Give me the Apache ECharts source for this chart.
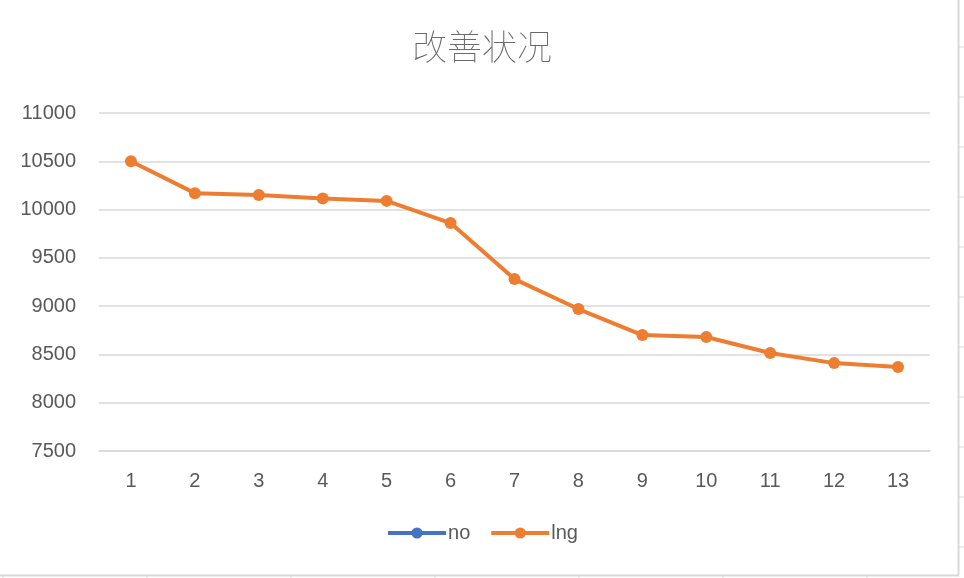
<!DOCTYPE html>
<html>
<head>
<meta charset="utf-8">
<script src="https://cdn.jsdelivr.net/npm/echarts@6/dist/echarts.min.js"></script>
<style>
  html, body { margin: 0; padding: 0; background: #fff; }
  #chart { width: 964px; height: 578px; }
</style>
</head>
<body>
<div id="chart"></div>
<script>
// data
const categories = ['1', '2', '3', '4', '5', '6', '7', '8', '9', '10', '11', '12', '13'];
const noValues = [null, null, null, null, null, null, null, null, null, null, null, null, null];
const lngValues = [10500, 10170, 10150, 10115, 10090, 9860, 9280, 8970, 8700, 8680, 8515, 8410, 8370];

const grey = '#595959';
const font = '"Liberation Sans", "Noto Sans CJK SC", sans-serif';

const chart = echarts.init(document.getElementById('chart'));

// spreadsheet cell edges at right and bottom of the picture
const edges = [
  { type: 'line', shape: { x1: 958.5, y1: 0, x2: 958.5, y2: 575 }, style: { stroke: '#d9d9d9', lineWidth: 2 } },
  { type: 'line', shape: { x1: 0, y1: 575.5, x2: 959, y2: 575.5 }, style: { stroke: '#d9d9d9', lineWidth: 2 } }
];
[47, 97, 147, 197, 247, 297, 347, 397, 447, 497, 547].forEach(function (y) {
  edges.push({ type: 'line', shape: { x1: 959, y1: y, x2: 964, y2: y }, style: { stroke: '#d9d9d9', lineWidth: 1 } });
});
[3, 147, 291, 435, 579, 723, 867].forEach(function (x) {
  edges.push({ type: 'line', shape: { x1: x, y1: 576, x2: x, y2: 578 }, style: { stroke: '#d9d9d9', lineWidth: 1 } });
});

chart.setOption({
  backgroundColor: '#fff',
  animation: false,
  textStyle: { fontFamily: font },
  title: {
    text: '改善状况',
    left: 'center',
    top: 24,
    textStyle: { color: '#6a6a6a', fontSize: 35, fontWeight: 'lighter', fontFamily: '"Noto Sans CJK SC", sans-serif' }
  },
  legend: {
    bottom: 30,
    left: 'center',
    itemWidth: 58,
    itemHeight: 14,
    itemGap: 19,
    lineStyle: { width: 4 },
    textStyle: { color: grey, fontSize: 20, fontFamily: font, padding: [0, 0, 0, -3] },
    data: ['no', 'lng']
  },
  grid: { left: 99, right: 34, top: 113, bottom: 127 },
  xAxis: {
    type: 'category',
    data: categories,
    boundaryGap: true,
    axisLine: { show: true, lineStyle: { color: '#d9d9d9', width: 1.5 } },
    axisTick: { show: false },
    axisLabel: { color: grey, fontSize: 20, margin: 20, fontFamily: font }
  },
  yAxis: {
    type: 'value',
    min: 7500,
    max: 11000,
    interval: 500,
    axisLine: { show: false },
    axisTick: { show: false },
    axisLabel: { color: grey, fontSize: 20, margin: 23, fontFamily: font, formatter: function (v) { return String(v); } },
    splitLine: { lineStyle: { color: '#d9d9d9', width: 1.5 } }
  },
  series: [
    {
      name: 'no',
      type: 'line',
      data: noValues,
      symbol: 'circle',
      symbolSize: 12,
      color: '#4472C4',
      lineStyle: { width: 4 }
    },
    {
      name: 'lng',
      type: 'line',
      data: lngValues,
      symbol: 'circle',
      symbolSize: 12,
      color: '#ED7D31',
      lineStyle: { width: 4 }
    }
  ],
  graphic: edges
});
</script>
</body>
</html>
